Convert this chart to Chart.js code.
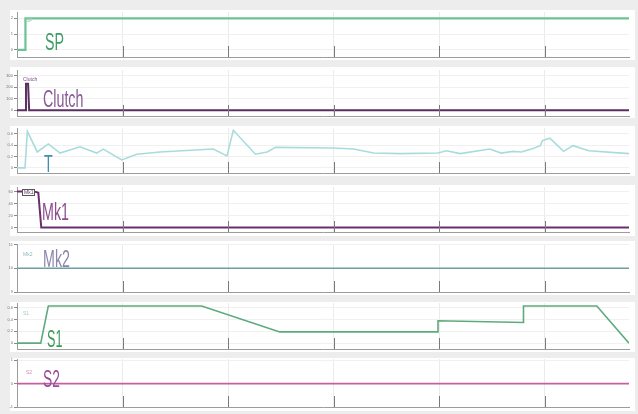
<!DOCTYPE html>
<html>
<head>
<meta charset="utf-8">
<script src="https://cdn.jsdelivr.net/npm/chart.js@4"></script>
<style>
  html, body { margin: 0; padding: 0; background: #ededed; }
  #wrap { position: relative; width: 638px; height: 414px; overflow: hidden; background: #ededed; }
  .bg { position: absolute; left: 10px; width: 625px; background: #ffffff; }
  canvas { position: absolute; left: 0; }
  .big { position: absolute; font-family: "Liberation Sans", Arial, sans-serif; font-size: 23px; line-height: 23px;
         transform-origin: 0 0; white-space: nowrap; }
  .mini { position: absolute; font-family: "Liberation Sans", Arial, sans-serif; font-size: 5px; line-height: 6px;
          white-space: nowrap; }
</style>
</head>
<body>
<div id="wrap"></div>
<script>
// Time axis (s)
const timeTicks = [0, 10, 20, 30, 40, 50];

// SP
const spTime   = [0, 0.8, 0.8, 58];
const spValues = [0, 0, 2, 2];
const spTicks  = [0, 1, 2];

// Clutch
const clutchTime   = [0, 0.8, 0.85, 1.05, 1.15, 58];
const clutchValues = [0, 0, 230, 230, 0, 0];
const clutchTicks  = [0, 100, 200, 300];

// T
const tTime = [0, 0.76, 0.98, 1.92, 2.97, 4.08, 5.97, 7.55, 8.18, 9.92, 11.35, 13.55,
               18.6, 19.9, 20.5, 22.6, 23.7, 24.5, 30.0, 31.9, 33.8, 36.3, 39.9, 40.7,
               42.0, 44.8, 45.9, 47.0, 47.8, 48.9, 49.6, 49.8, 50.5, 51.8, 52.7, 54.2, 58.0];
const tValues = [0, 0, 0.64, 0.28, 0.42, 0.26, 0.37, 0.26, 0.33, 0.14, 0.24, 0.28,
                 0.33, 0.21, 0.66, 0.24, 0.28, 0.36, 0.35, 0.33, 0.26, 0.25, 0.26, 0.30,
                 0.25, 0.33, 0.26, 0.29, 0.28, 0.34, 0.39, 0.48, 0.52, 0.29, 0.39, 0.30, 0.25];
const tTicks = [0, 0.2, 0.4, 0.6];

// Mk1
const mk1Time   = [0, 1.55, 1.87, 2.02, 2.3, 58];
const mk1Values = [60, 60, 59, 58, 0, 0];
const mk1Ticks  = [0, 20, 40, 60];

// Mk2
const mk2Time   = [0, 58];
const mk2Values = [10, 10];
const mk2Ticks  = [9, 10, 11];

// S1
const s1Time   = [0, 2.25, 2.97, 17.5, 24.9, 39.9, 39.9, 48.0, 48.0, 54.95, 58];
const s1Values = [0, 0, 0.63, 0.63, 0.19, 0.19, 0.38, 0.35, 0.63, 0.63, 0];
const s1Ticks  = [0, 0.2, 0.4, 0.6];

// S2
const s2Time   = [0, 58];
const s2Values = [0, 0];
const s2Ticks  = [-1, 0, 1];

const PAD = 8;
const wrap = document.getElementById('wrap');

// short tick marks pointing up from the time axis
const innerTicks = {
  id: 'innerTicks',
  afterDatasetsDraw(chart) {
    const xs = chart.scales.x, ctx = chart.ctx, b = chart.chartArea.bottom;
    ctx.save();
    ctx.strokeStyle = '#7a7a7a';
    ctx.lineWidth = 1;
    timeTicks.forEach(v => {
      if (v === 0) return;
      const px = Math.round(xs.getPixelForValue(v)) + 0.5;
      ctx.beginPath();
      ctx.moveTo(px, b);
      ctx.lineTo(px, b - 11);
      ctx.stroke();
    });
    ctx.restore();
  }
};

function fmt(v) {
  return Number.isInteger(v) ? String(v) : v.toFixed(1);
}

function makePanel(p, times, values, ticks) {
  const bg = document.createElement('div');
  bg.className = 'bg';
  bg.style.top = p.bgTop + 'px';
  bg.style.height = (p.bgBottom - p.bgTop) + 'px';
  wrap.appendChild(bg);

  const cTop = p.plotTop - PAD;
  const cH = Math.round(p.plotBottom - p.plotTop + 2 * PAD);
  const canvas = document.createElement('canvas');
  canvas.width = 638; canvas.height = cH;
  canvas.style.top = cTop + 'px';
  canvas.style.width = '638px'; canvas.style.height = cH + 'px';
  wrap.appendChild(canvas);

  new Chart(canvas, {
    type: 'line',
    data: {
      datasets: [{
        data: times.map((t, i) => ({ x: t, y: values[i] })),
        borderColor: p.color,
        borderWidth: p.width,
        pointRadius: 0,
        tension: 0,
        fill: false
      }]
    },
    options: {
      responsive: false,
      animation: false,
      events: [],
      layout: { padding: { left: 0, right: 9, top: PAD, bottom: PAD } },
      plugins: { legend: { display: false }, tooltip: { enabled: false } },
      scales: {
        x: {
          type: 'linear', min: 0, max: 58,
          afterBuildTicks: s => { s.ticks = timeTicks.map(v => ({ value: v })); },
          ticks: { display: false },
          grid: { color: '#ebebeb', drawTicks: false },
          border: { color: '#9c9c9c', width: 1 },
          afterFit: s => { s.height = 0; }
        },
        y: {
          min: p.min, max: p.max,
          afterBuildTicks: s => { s.ticks = ticks.map(v => ({ value: v })); },
          ticks: {
            font: { size: 4, family: 'Liberation Sans' },
            color: '#707070', padding: 1,
            callback: v => fmt(v)
          },
          grid: { color: '#f0f0f0', tickLength: 3, tickColor: '#8a8a8a' },
          border: { color: '#9c9c9c', width: 1 },
          afterFit: s => { s.width = 17; }
        }
      }
    },
    plugins: [innerTicks]
  });
}

function addText(cls, text, x, y, color, extra) {
  const d = document.createElement('div');
  d.className = cls;
  d.textContent = text;
  d.style.left = x + 'px';
  d.style.top = y + 'px';
  d.style.color = color;
  if (extra) Object.assign(d.style, extra);
  wrap.appendChild(d);
  return d;
}

makePanel({ bgTop: 10, bgBottom: 60, plotTop: 12, plotBottom: 57, min: -0.45, max: 2.4, color: '#6cc295', width: 2.2 },
  spTime, spValues, spTicks);
makePanel({ bgTop: 67, bgBottom: 118, plotTop: 70, plotBottom: 116, min: -50, max: 350, color: '#5a2f60', width: 2 },
  clutchTime, clutchValues, clutchTicks);
makePanel({ bgTop: 126, bgBottom: 176, plotTop: 128, plotBottom: 173, min: -0.09, max: 0.7, color: '#a8dcdc', width: 1.6 },
  tTime, tValues, tTicks);
makePanel({ bgTop: 185, bgBottom: 236, plotTop: 187, plotBottom: 232, min: -7.5, max: 67.5, color: '#6a2e6d', width: 2 },
  mk1Time, mk1Values, mk1Ticks);
makePanel({ bgTop: 241, bgBottom: 295, plotTop: 244, plotBottom: 291.5, min: 9, max: 11.02, color: '#6e9e9e', width: 1.6 },
  mk2Time, mk2Values, mk2Ticks);
makePanel({ bgTop: 302, bgBottom: 352, plotTop: 303, plotBottom: 348.5, min: -0.1, max: 0.68, color: '#5daa7c', width: 1.6 },
  s1Time, s1Values, s1Ticks);
makePanel({ bgTop: 358, bgBottom: 411, plotTop: 358.6, plotBottom: 407, min: -1, max: 1.05, color: '#c55f9e', width: 1.6 },
  s2Time, s2Values, s2Ticks);

// series names, small tags near the start of each trace
addText('mini', 'SP', 26, 17, '#8fcfae');
addText('mini', 'Clutch', 23, 76, '#7a4a82');
addText('mini', 'Mk1', 22, 189, '#6a2e6d', { border: '1px solid #555', padding: '0 1px', background: '#fff', lineHeight: '5px' });
addText('mini', 'Mk2', 23, 251, '#8fc0c0');
addText('mini', 'S1', 23, 310, '#9ad0b0');
addText('mini', 'S2', 26, 369, '#d98ab8');

// large series names
const sx = { transform: 'scaleX(0.62)' };
addText('big', 'SP', 45, 30.5, '#3f9e63', sx);
addText('big', 'Clutch', 43, 87.5, '#8a5a94', sx);
addText('big', 'T', 44, 152.5, '#3f8fb4', sx);
addText('big', 'Mk1', 42, 200.5, '#8e4c8e', sx);
addText('big', 'Mk2', 43, 247.5, '#8b87ad', { transform: 'scaleX(0.62)' });
addText('big', 'S1', 47, 327.5, '#3d9a5a', { transform: 'scaleX(0.55)' });
addText('big', 'S2', 43, 367.5, '#9a4a98', { transform: 'scaleX(0.6)' });
</script>
</body>
</html>
